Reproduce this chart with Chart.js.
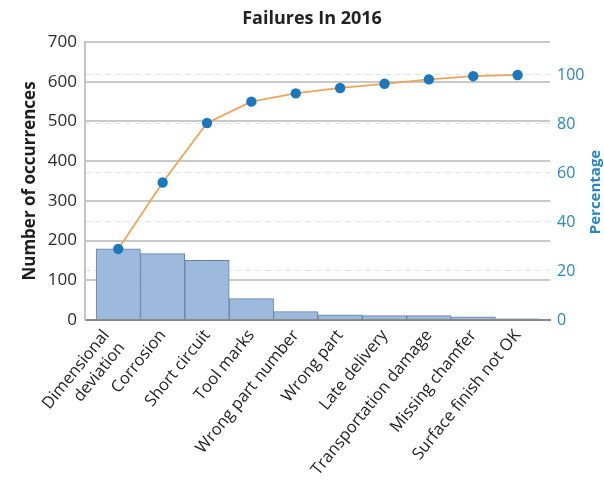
<!DOCTYPE html>
<html>
<head>
<meta charset="utf-8">
<script src="https://cdn.jsdelivr.net/npm/chart.js@4/dist/chart.umd.min.js"></script>
<style>
  html, body { margin: 0; padding: 0; background: #fff; }
  #wrap { width: 604px; height: 488px; }
</style>
</head>
<body>
<div id="wrap"><canvas id="c" width="604" height="488"></canvas></div>
<script>
// Failure categories (sorted by frequency) and their counts
const categories = [
  ["Dimensional", "deviation"], "Corrosion", "Short circuit", "Tool marks",
  "Wrong part number", "Wrong part", "Late delivery", "Transportation damage",
  "Missing chamfer", "Surface finish not OK"
];
const occurrences = [179, 167, 150, 54, 21, 13, 11, 11, 8, 3];
// Cumulative share of all failures, in percent
const cumulativePercent = [29.0, 56.1, 80.4, 89.1, 92.5, 94.7, 96.4, 98.2, 99.5, 100];

const countTicks = [0, 100, 200, 300, 400, 500, 600, 700];
const percentTicks = [0, 20, 40, 60, 80, 100];

const FONT = "'Open Sans', 'Noto Sans', sans-serif";
const BLUE = '#2a86c2';
const TITLE = 'Failures In 2016';

// Percentage axis is scaled so that 100 % lines up with the total count
const totalCount = occurrences.reduce((a, b) => a + b, 0);
const countMax = countTicks[countTicks.length - 1];
const percentMax = 100 * countMax / totalCount;

const barPoints = occurrences.map((v, i) => ({ x: i, y: v }));
const linePoints = cumulativePercent.map((v, i) => ({ x: i, y: v }));

// Chart heading plus the vertical "Percentage" caption on the right side
const captions = {
  id: 'captions',
  afterDraw(chart) {
    const ctx = chart.ctx;
    ctx.save();
    ctx.font = "bold 18px " + FONT;
    ctx.fillStyle = '#222';
    ctx.textAlign = 'center';
    ctx.textBaseline = 'middle';
    ctx.fillText(TITLE, 312, 19);

    ctx.translate(596, 192);
    ctx.rotate(-Math.PI / 2);
    ctx.font = "bold 15px " + FONT;
    ctx.fillStyle = BLUE;
    ctx.fillText('Percentage', 0, 0);
    ctx.restore();
  }
};

new Chart(document.getElementById('c'), {
  data: {
    datasets: [
      {
        type: 'line',
        data: linePoints,
        yAxisID: 'y2',
        borderColor: '#f0a45c',
        borderWidth: 1.8,
        pointBackgroundColor: '#1b78bd',
        pointBorderColor: '#1b78bd',
        pointRadius: 4.3,
        tension: 0,
        order: 0
      },
      {
        type: 'bar',
        data: barPoints,
        yAxisID: 'y',
        backgroundColor: '#9dbadd',
        borderColor: '#6682a8',
        borderWidth: 1,
        categoryPercentage: 1,
        barPercentage: 1,
        order: 1
      }
    ]
  },
  options: {
    responsive: false,
    animation: false,
    layout: { padding: { top: 42, left: 0, right: 0, bottom: 0 } },
    plugins: {
      legend: { display: false },
      tooltip: { enabled: false },
      title: { display: false }
    },
    scales: {
      x: {
        type: 'linear',
        offset: false,
        min: -0.75,
        max: 9.73,
        afterBuildTicks(scale) {
          // the two-line first label is nudged left so the pair sits centred under its bar
          scale.ticks = categories.map((c, i) => ({ value: Array.isArray(c) ? i - 0.27 : i }));
        },
        afterFit(scale) { scale.height = 168; },
        grid: { display: false, drawTicks: false, offset: false },
        border: { display: true, color: '#8a8a8a', width: 2 },
        ticks: {
          autoSkip: false,
          minRotation: 51,
          maxRotation: 51,
          padding: 6,
          color: '#222',
          font: { family: FONT, size: 16.5 },
          callback: (v, i) => categories[i]
        }
      },
      y: {
        position: 'left',
        min: 0,
        max: countMax,
        afterBuildTicks(scale) {
          scale.ticks = countTicks.map(v => ({ value: v }));
        },
        afterFit(scale) { scale.width = 85; },
        grid: { color: '#c9c9c9', lineWidth: 2, drawTicks: false },
        border: { display: true, color: '#c4c4c4', width: 2 },
        ticks: {
          padding: 8,
          color: '#2b2b2b',
          font: { family: FONT, size: 17 }
        },
        title: {
          display: true,
          text: 'Number of occurrences',
          color: '#1e1e1e',
          font: { family: FONT, size: 17, weight: 'bold' },
          padding: { top: 20, bottom: 0 }
        }
      },
      y2: {
        position: 'right',
        min: 0,
        max: percentMax,
        afterBuildTicks(scale) {
          scale.ticks = percentTicks.map(v => ({ value: v }));
        },
        afterFit(scale) { scale.width = 54; },
        grid: { color: '#dfe4ea', lineWidth: 1, drawTicks: false },
        border: { display: false, dash: [6, 4] },
        ticks: {
          padding: 7,
          color: BLUE,
          font: { family: FONT, size: 16 }
        }
      }
    }
  },
  plugins: [captions]
});
</script>
</body>
</html>
